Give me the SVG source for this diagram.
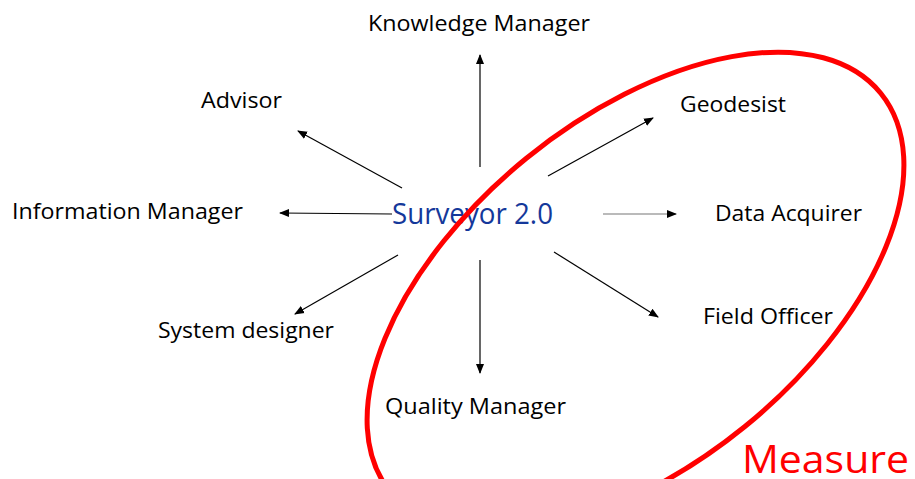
<svg xmlns="http://www.w3.org/2000/svg" width="915" height="479" viewBox="0 0 915 479">
<style>
.lbl{font-family:"Open Sans","Liberation Sans",sans-serif;font-size:21px;fill:#000}
.conn{stroke:#000;stroke-width:1.2;fill:none;marker-end:url(#ah)}
</style>
<defs>
<marker id="ah" markerUnits="userSpaceOnUse" markerWidth="10" markerHeight="10" viewBox="0 0 10 10" refX="9" refY="5" orient="auto">
<path d="M0,1 L10,5 L0,9 Z" fill="#000"/>
</marker>
</defs>
<rect width="915" height="479" fill="#fff"/>
<g id="connectors">
<line class="conn" x1="480" y1="167" x2="480" y2="55"/>
<line class="conn" x1="402" y1="188" x2="298" y2="131"/>
<line class="conn" x1="392" y1="214" x2="280" y2="213"/>
<line class="conn" x1="548" y1="176" x2="653" y2="118"/>
<line class="conn" x1="603" y1="214" x2="676" y2="214" style="stroke:#777"/>
<line class="conn" x1="554" y1="252" x2="658" y2="317"/>
<line class="conn" x1="398" y1="255" x2="295" y2="314"/>
<line class="conn" x1="480" y1="260" x2="480" y2="373"/>
</g>
<g id="center"><text x="392" y="224" textLength="161" lengthAdjust="spacingAndGlyphs" style="font-family:'Open Sans','Liberation Sans',sans-serif;font-size:29px;fill:#14389A">Surveyor 2.0</text></g>
<g id="knowledge-manager"><text class="lbl" x="368" y="31" textLength="222" lengthAdjust="spacingAndGlyphs">Knowledge Manager</text></g>
<g id="advisor"><text class="lbl" x="201" y="108" textLength="81" lengthAdjust="spacingAndGlyphs">Advisor</text></g>
<g id="geodesist"><text class="lbl" x="680" y="112" textLength="106" lengthAdjust="spacingAndGlyphs">Geodesist</text></g>
<g id="information-manager"><text class="lbl" x="12" y="219" textLength="231" lengthAdjust="spacingAndGlyphs">Information Manager</text></g>
<g id="data-acquirer"><text class="lbl" x="715" y="221" textLength="147" lengthAdjust="spacingAndGlyphs">Data Acquirer</text></g>
<g id="field-officer"><text class="lbl" x="703" y="324" textLength="130" lengthAdjust="spacingAndGlyphs">Field Officer</text></g>
<g id="system-designer"><text class="lbl" x="158" y="338" textLength="176" lengthAdjust="spacingAndGlyphs">System designer</text></g>
<g id="quality-manager"><text class="lbl" x="385" y="414" textLength="181" lengthAdjust="spacingAndGlyphs">Quality Manager</text></g>
<g id="measure">
<ellipse cx="635.5" cy="292.5" rx="316" ry="173" transform="rotate(-39.1 635.5 292.5)" fill="none" stroke="#FF0000" stroke-width="5"/>
<text x="742" y="473" textLength="167" lengthAdjust="spacingAndGlyphs" style="font-family:'Open Sans','Liberation Sans',sans-serif;font-size:39px;fill:#FF0000">Measure</text>
</g>
</svg>
